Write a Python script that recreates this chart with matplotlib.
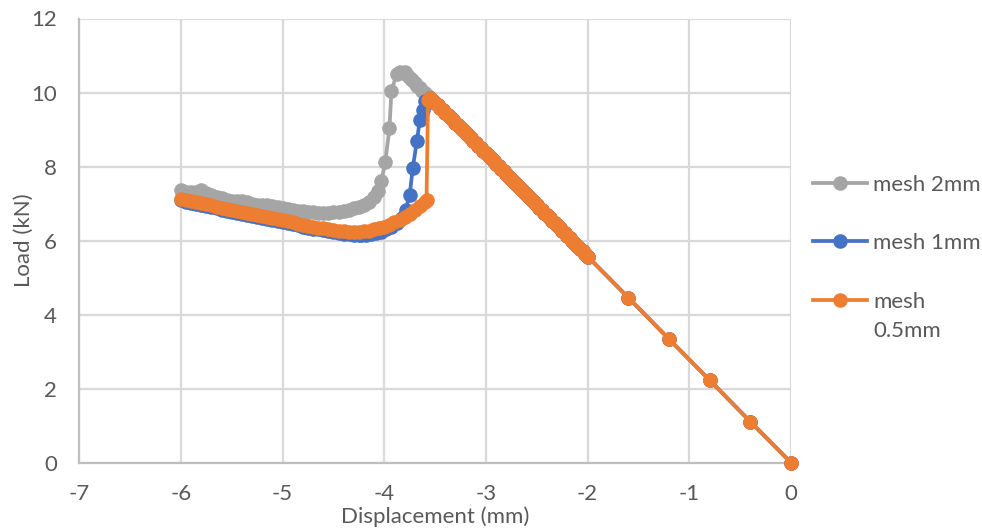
import matplotlib
matplotlib.use("Agg")
import matplotlib.pyplot as plt
from matplotlib.lines import Line2D

plt.rcParams['font.family'] = ['Lato', 'DejaVu Sans']

# ---------------- data ----------------
# shared elastic branch (0 -> -3.55 mm)
elastic_x = [0.0, -0.4, -0.8, -1.2, -1.6, -2.0,
             -2.025, -2.050, -2.075, -2.100, -2.125, -2.150, -2.175, -2.200,
             -2.225, -2.250, -2.275, -2.300, -2.325, -2.350, -2.375, -2.400,
             -2.425, -2.450, -2.475, -2.500, -2.525, -2.550, -2.575, -2.600,
             -2.625, -2.650, -2.675, -2.700, -2.725, -2.750, -2.775, -2.800,
             -2.825, -2.850, -2.875, -2.900, -2.925, -2.950, -2.975, -3.000,
             -3.025, -3.050, -3.075, -3.100, -3.125, -3.150, -3.175, -3.200,
             -3.225, -3.250, -3.275, -3.300, -3.325, -3.350, -3.375, -3.400,
             -3.425, -3.450, -3.475, -3.500, -3.525, -3.550]
elastic_y = [0.0, 1.11, 2.23, 3.34, 4.46, 5.57,
             5.64, 5.71, 5.78, 5.85, 5.92, 5.99, 6.06, 6.13,
             6.20, 6.27, 6.34, 6.41, 6.48, 6.54, 6.61, 6.68,
             6.75, 6.82, 6.89, 6.96, 7.03, 7.10, 7.17, 7.24,
             7.31, 7.38, 7.45, 7.52, 7.59, 7.66, 7.73, 7.80,
             7.87, 7.94, 8.01, 8.08, 8.15, 8.22, 8.29, 8.36,
             8.42, 8.49, 8.56, 8.63, 8.70, 8.77, 8.84, 8.91,
             8.98, 9.05, 9.12, 9.19, 9.26, 9.33, 9.39, 9.46,
             9.53, 9.59, 9.66, 9.72, 9.78, 9.84]

# mesh 2mm post-elastic branch
m2_x = [-3.575, -3.60, -3.625, -3.65, -3.675, -3.70, -3.725, -3.75, -3.775, -3.80,
        -3.85, -3.88, -3.93, -3.95, -3.99, -4.03, -4.06, -4.10, -4.15, -4.20,
        -4.25, -4.30, -4.35, -4.40, -4.45, -4.50, -4.55, -4.60, -4.65, -4.70,
        -4.75, -4.80, -4.85, -4.90, -4.95, -5.00, -5.05, -5.10, -5.15, -5.20,
        -5.25, -5.30, -5.35, -5.40, -5.45, -5.50, -5.55, -5.60, -5.65, -5.70,
        -5.75, -5.80, -5.85, -5.90, -5.95, -6.00]
m2_y = [9.91, 9.98, 10.05, 10.12, 10.19, 10.26, 10.33, 10.40, 10.47, 10.55,
        10.56, 10.50, 10.03, 9.03, 8.13, 7.60, 7.33, 7.18, 7.05, 6.97,
        6.92, 6.88, 6.84, 6.81, 6.78, 6.76, 6.75, 6.74, 6.75, 6.77,
        6.78, 6.80, 6.81, 6.83, 6.85, 6.88, 6.90, 6.93, 6.96, 6.96,
        6.97, 6.99, 7.03, 7.06, 7.08, 7.08, 7.11, 7.15, 7.19, 7.23,
        7.29, 7.36, 7.32, 7.30, 7.32, 7.36]

# mesh 1mm post-elastic branch
m1_x = [-3.60, -3.62, -3.65, -3.68, -3.72, -3.75, -3.79, -3.83, -3.88, -3.93,
        -3.98, -4.03, -4.08, -4.13, -4.18, -4.23, -4.25, -4.30, -4.35, -4.40,
        -4.45, -4.50, -4.55, -4.60, -4.65, -4.70, -4.75, -4.80, -4.85, -4.90,
        -4.95, -5.00, -5.05, -5.10, -5.15, -5.20, -5.25, -5.30, -5.35, -5.40,
        -5.45, -5.50, -5.55, -5.60, -5.65, -5.70, -5.75, -5.80, -5.85, -5.90,
        -5.95, -6.00]
m1_y = [9.76, 9.52, 9.27, 8.68, 7.97, 7.24, 6.84, 6.62, 6.48, 6.38,
        6.30, 6.24, 6.20, 6.17, 6.15, 6.15, 6.15, 6.16, 6.17, 6.19,
        6.21, 6.24, 6.26, 6.28, 6.30, 6.32, 6.35, 6.38, 6.41, 6.44,
        6.47, 6.50, 6.53, 6.56, 6.59, 6.62, 6.65, 6.67, 6.70, 6.72,
        6.75, 6.78, 6.81, 6.84, 6.87, 6.90, 6.93, 6.96, 6.99, 7.02,
        7.05, 7.09]

# mesh 0.5mm post-elastic branch
m05_x = [-3.57, -3.585, -3.60, -3.65, -3.70, -3.75, -3.80, -3.85, -3.90, -3.95,
         -4.00, -4.05, -4.10, -4.15, -4.20, -4.25, -4.30, -4.35, -4.40, -4.45,
         -4.50, -4.55, -4.60, -4.65, -4.70, -4.75, -4.80, -4.85, -4.90, -4.95,
         -5.00, -5.05, -5.10, -5.15, -5.20, -5.25, -5.30, -5.35, -5.40, -5.45,
         -5.50, -5.55, -5.60, -5.65, -5.70, -5.75, -5.80, -5.85, -5.90, -5.95,
         -6.00]
m05_y = [9.80, 7.10, 7.05, 6.93, 6.83, 6.73, 6.64, 6.56, 6.49, 6.43,
         6.38, 6.34, 6.30, 6.27, 6.25, 6.24, 6.24, 6.24, 6.25, 6.27,
         6.29, 6.31, 6.33, 6.35, 6.37, 6.40, 6.43, 6.46, 6.49, 6.52,
         6.55, 6.58, 6.61, 6.64, 6.67, 6.70, 6.72, 6.75, 6.77, 6.80,
         6.83, 6.86, 6.89, 6.92, 6.95, 6.98, 7.01, 7.04, 7.07, 7.10,
         7.13]

labels = ['mesh 2mm', 'mesh 1mm', 'mesh\n0.5mm']
colors = ['#A5A5A5', '#4472C4', '#ED7D31']

x_ticks = [-7, -6, -5, -4, -3, -2, -1, 0]
y_ticks = [0, 2, 4, 6, 8, 10, 12]

# ---------------- figure ----------------
W, H = 982, 531
fig = plt.figure(figsize=(W / 100, H / 100), dpi=100)
ax = fig.add_axes([79.3 / W, 1 - 462.7 / H, (791 - 79.3) / W, (462.7 - 18.5) / H])

text_c = '#595959'
grid_c = '#D9D9D9'
FS = 16

series = [
    (elastic_x + m2_x, elastic_y + m2_y),
    (elastic_x + m1_x, elastic_y + m1_y),
    (elastic_x + m05_x, elastic_y + m05_y),
]
for (xs, ys), c in zip(series, colors):
    ax.plot(xs, ys, color=c, lw=2.7, marker='o', markersize=10.5,
            markeredgewidth=0, clip_on=False, zorder=3)

ax.set_xlim(-7, 0)
ax.set_ylim(0, 12)
ax.set_xticks(x_ticks)
ax.set_yticks(y_ticks)
ax.set_xticklabels([str(v) for v in x_ticks])
ax.set_yticklabels([str(v) for v in y_ticks])
ax.grid(True, color=grid_c, lw=1.6, zorder=0)
ax.set_axisbelow(True)
for s in ['top', 'right']:
    ax.spines[s].set_visible(False)
for s in ['left', 'bottom']:
    ax.spines[s].set_color('#BFBFBF')
    ax.spines[s].set_linewidth(1.6)
ax.tick_params(length=0, labelsize=FS, colors=text_c)
ax.tick_params(axis='y', pad=16)
ax.tick_params(axis='x', pad=15)
ax.set_xlabel('Displacement (mm)', fontsize=FS, color=text_c, labelpad=2)
ax.set_ylabel('Load (kN)', fontsize=FS, color=text_c, labelpad=-2)

# legend (Excel style, handle aligned with first text line)
leg_y = [183, 241, 300]
for yy, c, lab in zip(leg_y, colors, labels):
    fy = 1 - yy / H
    fig.add_artist(Line2D([813 / W, 867 / W], [fy, fy], color=c, lw=2.7,
                          transform=fig.transFigure))
    fig.add_artist(Line2D([840 / W], [fy], color=c, marker='o', markersize=10.5,
                          markeredgewidth=0, transform=fig.transFigure))
    lines = lab.split('\n')
    for i, ln in enumerate(lines):
        fig.text(873 / W, 1 - (yy + i * 29) / H, ln, fontsize=FS, color=text_c,
                 ha='left', va='center_baseline', transform=fig.transFigure)

fig.savefig('out.png', dpi=100)
